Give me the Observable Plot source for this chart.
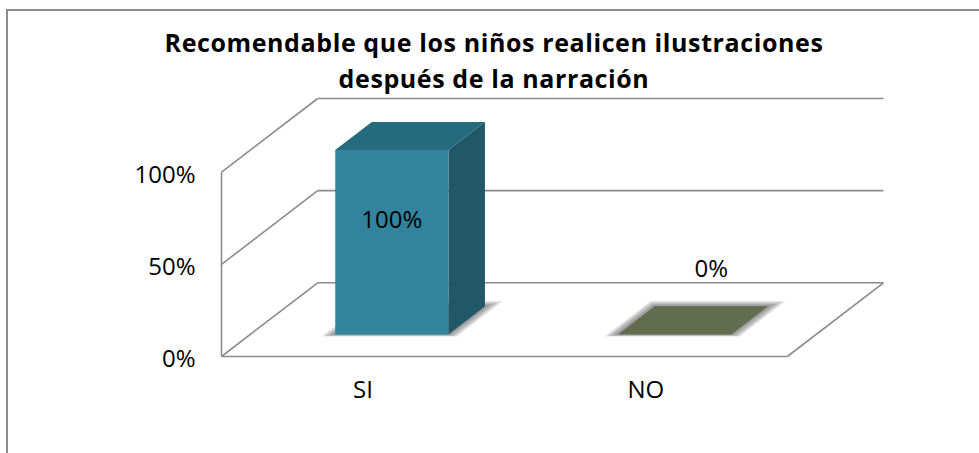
<!DOCTYPE html>
<html><head><meta charset="utf-8">
<script src="https://cdn.jsdelivr.net/npm/d3@7"></script>
<script src="https://cdn.jsdelivr.net/npm/@observablehq/plot@0.6"></script>
<style>
html,body{margin:0;padding:0;background:#fff;}
#wrap{position:relative;width:979px;height:453px;overflow:hidden;font-family:"Open Sans",sans-serif;}
#frame{position:absolute;left:6px;top:9px;width:1000px;height:500px;border-left:2px solid #8c8c8c;border-top:2px solid #8c8c8c;}
#title{position:absolute;left:7px;width:974px;top:24px;text-align:center;font-weight:bold;font-size:25px;letter-spacing:0.6px;line-height:36px;color:#000;}
#chart{position:absolute;left:0;top:0;}
</style>
</head><body>
<div id="wrap"><div id="frame"></div><div id="title"></div><div id="chart"></div></div>
<script>
// ---- data ----
const titleLines = ["Recomendable que los niños realicen ilustraciones", "después de la narración"];
const categories = ["SI", "NO"];
const values = [1, 0];
const valueLabels = ["100%", "0%"];
const yTicks = [0, 0.5, 1];
const faceColors = [
  {front: "#31849B", top: "#246B7E", side: "#215868"},
  {front: "#5F6B4B", top: "#626D4F", side: "#4E583D"}
];

// ---- 3D geometry (in data units) ----
const DX = 0.34, DY = 0.4;      // depth offset of the back wall
const D1 = 0.3, D2 = 0.68;      // bar depth range (fraction of depth)
const W = 0.4;                  // bar width (fraction of band)
const P = (u, d, h) => ({x: u + d * DX, y: h + d * DY});

document.getElementById("title").innerHTML = titleLines.join("<br>");

const backGrid = yTicks.map(v => ({a: P(0, 1, v), b: P(2, 1, v)}));
const sideGrid = yTicks.map(v => ({a: P(0, 0, v), b: P(0, 1, v)}));
const edges = [
  {a: P(0, 0, 0), b: P(0, 0, yTicks[yTicks.length - 1])},
  {a: P(0, 0, 0), b: P(categories.length, 0, 0)},
  {a: P(categories.length, 0, 0), b: P(categories.length, 1, 0)}
];
const walls = [...backGrid, ...sideGrid, ...edges];

const faces = [];
const shadows = [];
const shadowLayers = [0, 1, 2, 3];
categories.forEach((c, i) => {
  const v = values[i];
  const u0 = i + 0.5 - W / 2, u1 = i + 0.5 + W / 2;
  const col = faceColors[i];
  const add = (name, pts, color) => pts.forEach(p => faces.push({...p, id: c + "-" + name, color}));
  if (v > 0) {
    add("side", [P(u1, D1, 0), P(u1, D2, 0), P(u1, D2, v), P(u1, D1, v)], col.side);
    add("front", [P(u0, D1, 0), P(u1, D1, 0), P(u1, D1, v), P(u0, D1, v)], col.front);
  }
  add("top", [P(u0, D1, v), P(u1, D1, v), P(u1, D2, v), P(u0, D2, v)], col.top);
  // soft floor shadow built from a few stacked, slightly larger translucent layers
  shadowLayers.forEach(k => {
    const e = 0.008 + 0.01 * k, f = 0.01 + 0.012 * k;
    [P(u0 - e, D1 - f * 0.6, 0), P(u1 + e, D1 - f * 0.6, 0), P(u1 + e, D2 + f * 1.5, 0), P(u0 - e, D2 + f * 1.5, 0)]
      .forEach(p => shadows.push({...p, id: c + "-shadow-" + k, color: "#3a3a3a"}));
  });
});

const labels = categories.map((c, i) => {
  const v = values[i];
  return v > 0.5
    ? {...P(i + 0.5, D1, v * 0.62), text: valueLabels[i]}
    : {...P(i + 0.5, D2, v + 0.2), text: valueLabels[i]};
});
const catLabels = categories.map((c, i) => ({...P(i + 0.5, 0, 0), text: c}));

const lineStyle = {stroke: "#8c8c8c", strokeWidth: 1.6};
const FS = 24;

const chart = Plot.plot({
  width: 979,
  height: 453,
  marginLeft: 221,
  marginRight: 96,
  marginTop: 98,
  marginBottom: 97,
  x: {domain: [0, categories.length + DX], axis: null},
  y: {domain: [0, yTicks[yTicks.length - 1] + DY], axis: null},
  color: {type: "identity"},
  style: {fontFamily: "'Open Sans', sans-serif", fontSize: FS + "px", background: "transparent", color: "#000", overflow: "visible"},
  marks: [
    Plot.link(walls, {x1: d => d.a.x, y1: d => d.a.y, x2: d => d.b.x, y2: d => d.b.y, ...lineStyle}),
    Plot.line(shadows, {x: "x", y: "y", z: "id", fill: "color", fillOpacity: 0.17, stroke: "none", curve: "linear-closed"}),
    Plot.line(faces, {x: "x", y: "y", z: "id", fill: "color", stroke: "none", curve: "linear-closed"}),
    Plot.axisY(yTicks, {tickFormat: d3.format(".0%"), tickSize: 0, tickPadding: 26, dy: 3, fontSize: FS, label: null}),
    Plot.text(catLabels, {x: "x", y: "y", text: "text", dy: 34, fontSize: FS, lineAnchor: "middle"}),
    Plot.text(labels, {x: "x", y: "y", text: "text", fontSize: FS, lineAnchor: "middle"})
  ]
});
document.getElementById("chart").appendChild(chart);
</script>
</body></html>
